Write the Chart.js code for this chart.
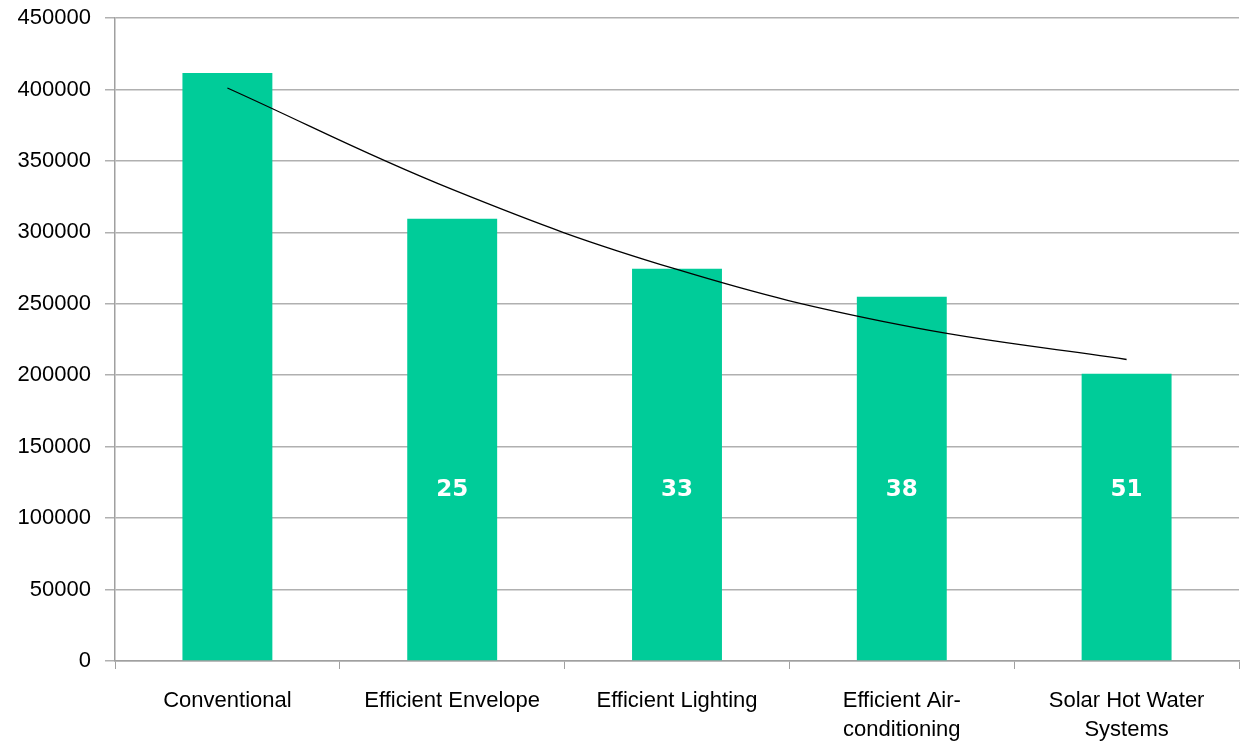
<!DOCTYPE html>
<html>
<head>
<meta charset="utf-8">
<script src="https://cdn.jsdelivr.net/npm/chart.js@4/dist/chart.umd.min.js"></script>
<style>
  html, body { margin: 0; padding: 0; background: #fff; }
  #wrap { width: 1241px; height: 745px; }
</style>
</head>
<body>
<div id="wrap"><canvas id="myChart" width="1241" height="745"></canvas></div>
<script>
const categories = ["Conventional", "Efficient Envelope", "Efficient Lighting", ["Efficient Air-", "conditioning"], ["Solar Hot Water", "Systems"]];
const energyUse = [411500, 309500, 274500, 255000, 201000];
const trendValues = [401000, 330000, 274000, 235000, 211000];
const savingLabels = ["", "25", "33", "38", "51"];
const yTicks = [0, 50000, 100000, 150000, 200000, 250000, 300000, 350000, 400000, 450000];

// white numbers drawn inside the bars
const barLabels = {
    id: 'barLabels',
    afterDatasetsDraw(chart) {
        const ctx = chart.ctx;
        const meta = chart.getDatasetMeta(0);
        const y = chart.scales.y.getPixelForValue(120000);
        ctx.save();
        ctx.fillStyle = '#ffffff';
        ctx.font = 'bold 23px "DejaVu Sans"';
        ctx.textAlign = 'center';
        ctx.textBaseline = 'middle';
        meta.data.forEach((bar, i) => {
            if (savingLabels[i]) ctx.fillText(savingLabels[i], bar.x, y);
        });
        ctx.restore();
    }
};

const ctx = document.getElementById('myChart').getContext('2d');
const myChart = new Chart(ctx, {
    type: 'bar',
    data: {
        labels: categories,
        datasets: [{
            type: 'line',
            data: trendValues,
            borderColor: '#000000',
            borderWidth: 1.3,
            pointRadius: 0,
            tension: 0.4,
            fill: false,
            order: 0
        }, {
            type: 'bar',
            data: energyUse,
            backgroundColor: '#00CC99',
            barPercentage: 0.4,
            categoryPercentage: 1.0,
            order: 1
        }]
    },
    options: {
        responsive: false,
        animation: false,
        layout: { padding: { top: 18, right: 2, left: 0, bottom: 0 } },
        plugins: {
            legend: { display: false },
            tooltip: { enabled: false }
        },
        scales: {
            x: {
                offset: true,
                grid: {
                    offset: true,
                    drawOnChartArea: false,
                    drawTicks: true,
                    tickLength: 8,
                    color: '#a0a0a0'
                },
                border: { color: '#a0a0a0', width: 1.5 },
                ticks: {
                    color: '#000000',
                    font: { family: '"Liberation Sans", Arial', size: 22, lineHeight: 1.3 },
                    padding: 18,
                    maxRotation: 0,
                    autoSkip: false
                },
                afterFit(scale) { scale.height = 84; }
            },
            y: {
                min: 0,
                max: 450000,
                afterBuildTicks(scale) { scale.ticks = yTicks.map(v => ({ value: v })); },
                grid: {
                    color: '#b0b0b0',
                    lineWidth: 1.5,
                    drawTicks: true,
                    tickLength: 10
                },
                border: { color: '#a0a0a0', width: 1.5 },
                ticks: {
                    color: '#000000',
                    font: { family: '"Liberation Sans", Arial', size: 22 },
                    padding: 14,
                    callback: (v) => String(v)
                },
                afterFit(scale) {
                    scale.width = 115;
                    scale.paddingTop = 0;
                    scale.paddingBottom = 0;
                }
            }
        }
    },
    plugins: [barLabels]
});
</script>
</body>
</html>
